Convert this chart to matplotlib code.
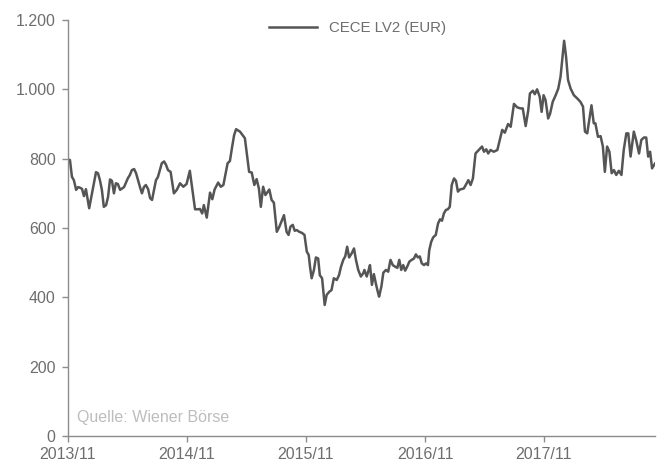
import numpy as np
import pandas as pd
import matplotlib
matplotlib.use('Agg')
import matplotlib.pyplot as plt
import matplotlib.dates as mdates
from matplotlib.ticker import FuncFormatter

plt.rcParams['font.family'] = ['Liberation Sans', 'DejaVu Sans']

# Datos (dias desde 2013-11-01, valor del indice)
inicio = pd.Timestamp('2013-11-01')
dias = [0, 6, 12, 18, 25, 31, 37, 43, 49, 55, 65, 86, 92, 98, 104, 110, 117, 123,
        129, 135, 141, 147, 153, 160, 172, 184, 190, 196, 203, 209, 215, 221, 227,
        233, 239, 246, 252, 258, 264, 270, 276, 282, 288, 295, 301, 307, 315, 325,
        334, 344, 354, 364, 374, 390, 400, 405, 412, 417, 426, 436, 443, 450, 461,
        469, 477, 490, 497, 504, 510, 516, 528, 543, 556, 564, 572, 579, 586, 592,
        599, 606, 618, 625, 632, 641, 649, 657, 663, 671, 677, 683, 690, 696, 702,
        710, 718, 726, 733, 739, 743, 748, 755, 761, 768, 773, 780, 788, 794, 802,
        809, 816, 825, 832, 838, 845, 851, 857, 863, 871, 878, 884, 891, 899, 906,
        910, 917, 923, 927, 933, 939, 945, 951, 955, 962, 968, 976, 983, 990, 997,
        1005, 1011, 1017, 1023, 1029, 1035, 1041, 1048, 1055, 1062, 1068, 1074,
        1080, 1086, 1093, 1099, 1105, 1109, 1115, 1121, 1129, 1136, 1142, 1148,
        1154, 1160, 1166, 1172, 1178, 1185, 1191, 1197, 1203, 1215, 1221, 1229,
        1236, 1243, 1251, 1261, 1271, 1277, 1284, 1290, 1297, 1307, 1318, 1323,
        1333, 1341, 1351, 1359, 1369, 1379, 1389, 1396, 1405, 1413, 1418, 1427,
        1433, 1440, 1448, 1454, 1460, 1466, 1474, 1480, 1488, 1497, 1505, 1512,
        1517, 1523, 1529, 1535, 1543, 1553, 1563, 1573, 1581, 1587, 1594, 1601,
        1607, 1614, 1619, 1627, 1635, 1642, 1648, 1655, 1662, 1669, 1676, 1683,
        1691, 1699, 1706, 1714, 1720, 1727, 1737, 1744, 1753, 1760, 1768, 1775,
        1781, 1787, 1793, 1802]
valores = [798, 796, 748, 738, 710, 718, 716, 713, 692, 712, 657, 761, 758, 738, 710,
           661, 666, 690, 740, 736, 700, 729, 727, 710, 718, 744, 753, 767, 770, 758,
           738, 718, 700, 718, 724, 712, 686, 681, 710, 738, 747, 767, 787, 792, 782,
           767, 762, 700, 710, 729, 719, 727, 765, 654, 654, 655, 642, 666, 630, 702,
           683, 711, 731, 719, 724, 787, 793, 835, 868, 885, 878, 859, 762, 760, 724,
           741, 714, 661, 719, 695, 711, 681, 673, 589, 604, 623, 637, 589, 580, 604,
           609, 592, 594, 589, 586, 580, 532, 522, 488, 455, 479, 515, 512, 464, 455,
           378, 407, 416, 421, 455, 450, 464, 488, 508, 518, 546, 515, 527, 541, 508,
           479, 460, 469, 479, 460, 479, 493, 436, 467, 440, 416, 402, 431, 471, 479,
           474, 508, 493, 488, 485, 508, 479, 493, 477, 488, 503, 508, 512, 524, 515,
           518, 498, 493, 498, 493, 536, 560, 573, 580, 613, 625, 621, 642, 652, 654,
           661, 724, 743, 736, 705, 711, 714, 724, 738, 724, 743, 815, 825, 835, 820,
           827, 815, 825, 820, 825, 844, 883, 875, 900, 892, 958, 948, 945, 945, 894,
           940, 988, 996, 986, 1000, 979, 935, 983, 969, 916, 930, 964, 983, 1002,
           1036, 1084, 1140, 1094, 1027, 1002, 983, 974, 964, 950, 878, 873, 916, 954,
           902, 902, 863, 865, 835, 762, 835, 820, 758, 767, 753, 765, 753, 825, 873,
           873, 806, 878, 854, 815, 854, 861, 861, 806, 820, 772, 786]

fechas = inicio + pd.to_timedelta(dias, unit='D')
xticks = pd.to_datetime(['2013-11-01', '2014-11-01', '2015-11-01', '2016-11-01', '2017-11-01'])
yticks = [0, 200, 400, 600, 800, 1000, 1200]

gris_eje = '#8c8c8c'
gris_txt = '#6e6e6e'

fig = plt.figure(figsize=(6.59, 4.62), dpi=100)
ax = fig.add_axes([68/659, 1-436/462, (655-68)/659, (436-20)/462])
ax.plot(fechas, valores, color='#555555', lw=1.8, label='CECE LV2 (EUR)')

ax.set_xlim(fechas[0], fechas[-1])
ax.set_ylim(0, 1200)
ax.set_xticks(xticks)
ax.xaxis.set_major_formatter(mdates.DateFormatter('%Y/%m'))
ax.set_yticks(yticks)
ax.yaxis.set_major_formatter(FuncFormatter(lambda v, p: f'{int(v):,}'.replace(',', '.')))

for s in ['top', 'right']:
    ax.spines[s].set_visible(False)
for s in ['left', 'bottom']:
    ax.spines[s].set_color(gris_eje)
    ax.spines[s].set_linewidth(1.0)
ax.tick_params(colors=gris_eje, labelcolor=gris_txt, labelsize=11.5, length=4, width=1)
ax.tick_params(axis='y', pad=5)
ax.tick_params(axis='x', pad=4)

ax.text(0.015, 0.045, 'Quelle: Wiener Börse', transform=ax.transAxes,
        color='#bdbdbd', fontsize=11.5, va='center', ha='left')

fig.legend(loc='center', bbox_to_anchor=(0.543, 0.939), frameon=False,
           fontsize=10.8, handlelength=3.2, labelcolor=gris_txt)

fig.savefig('out.png', dpi=100)
